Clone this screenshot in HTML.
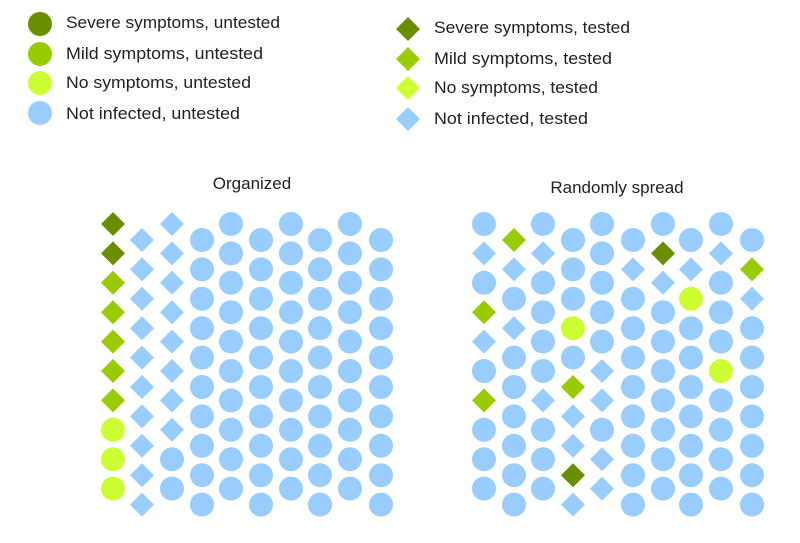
<!DOCTYPE html>
<html><head><meta charset="utf-8"><style>
html,body{margin:0;padding:0;background:#fff;}
svg{display:block;}
text{font-family:"Liberation Sans",sans-serif;font-size:17px;fill:#222;}
</style></head><body>
<svg id="s" width="800" height="543" viewBox="0 0 800 543">
<circle cx="40" cy="24" r="12" fill="#6b8e00"/>
<circle cx="40" cy="54" r="12" fill="#99cc00"/>
<circle cx="40" cy="83" r="12" fill="#ccff33"/>
<circle cx="40" cy="113" r="12" fill="#99ccff"/>
<text x="66" y="28" textLength="214" lengthAdjust="spacingAndGlyphs">Severe symptoms, untested</text>
<text x="66" y="59" textLength="197" lengthAdjust="spacingAndGlyphs">Mild symptoms, untested</text>
<text x="66" y="88" textLength="185" lengthAdjust="spacingAndGlyphs">No symptoms, untested</text>
<text x="66" y="119" textLength="174" lengthAdjust="spacingAndGlyphs">Not infected, untested</text>
<polygon points="408,17 420,29 408,41 396,29" fill="#6b8e00"/>
<polygon points="408,47 420,59 408,71 396,59" fill="#99cc00"/>
<polygon points="408,76 420,88 408,100 396,88" fill="#ccff33"/>
<polygon points="408,107 420,119 408,131 396,119" fill="#99ccff"/>
<text x="434" y="33" textLength="196" lengthAdjust="spacingAndGlyphs">Severe symptoms, tested</text>
<text x="434" y="64" textLength="178" lengthAdjust="spacingAndGlyphs">Mild symptoms, tested</text>
<text x="434" y="93" textLength="164" lengthAdjust="spacingAndGlyphs">No symptoms, tested</text>
<text x="434" y="124" textLength="154" lengthAdjust="spacingAndGlyphs">Not infected, tested</text>
<text x="252" y="189" text-anchor="middle">Organized</text>
<text x="617" y="193" text-anchor="middle">Randomly spread</text>
<g id="g"></g>
</svg>
<script>
var col={S:"#6b8e00",M:"#99cc00",N:"#ccff33",B:"#99ccff"};
var L=[
"dS dS dM dM dM dM dM cN cN cN",
"dB dB dB dB dB dB dB dB dB dB",
"dB dB dB dB dB dB dB dB cB cB",
"cB cB cB cB cB cB cB cB cB cB","cB cB cB cB cB cB cB cB cB cB","cB cB cB cB cB cB cB cB cB cB",
"cB cB cB cB cB cB cB cB cB cB","cB cB cB cB cB cB cB cB cB cB","cB cB cB cB cB cB cB cB cB cB","cB cB cB cB cB cB cB cB cB cB"];
var R=[
"cB dB cB dM dB cB dM cB cB cB",
"dM dB cB dB cB cB cB cB cB cB",
"cB dB cB cB cB cB dB cB cB cB",
"cB cB cB cN cB dM dB dB dS dB",
"cB cB cB cB cB dB dB cB dB dB",
"cB dB cB cB cB cB cB cB cB cB",
"cB dS dB cB cB cB cB cB cB cB",
"cB dB cN cB cB cB cB cB cB cB",
"cB dB cB cB cB cN cB cB cB cB",
"cB dM dB cB cB cB cB cB cB cB"];
var LX=[113,142,172,202,231,261,291,320,350,381],RX=[484,514,543,573,602,633,663,691,721,752];
var g=document.getElementById("g"),h="";
function draw(grid,xs){for(var c=0;c<10;c++){var a=grid[c].split(" ");var y0=c%2?240:224;
for(var r=0;r<10;r++){var t=a[r];var y=y0+r*29.4;var x=xs[c];
if(t[0]=="c")h+='<circle cx="'+x+'" cy="'+y.toFixed(1)+'" r="12" fill="'+col[t[1]]+'"/>';
else h+='<polygon transform="translate('+x+','+y.toFixed(1)+')" points="0,-12 12,0 0,12 -12,0" fill="'+col[t[1]]+'"/>';}}}
draw(L,LX);draw(R,RX);g.innerHTML=h;
</script>
</body></html>
